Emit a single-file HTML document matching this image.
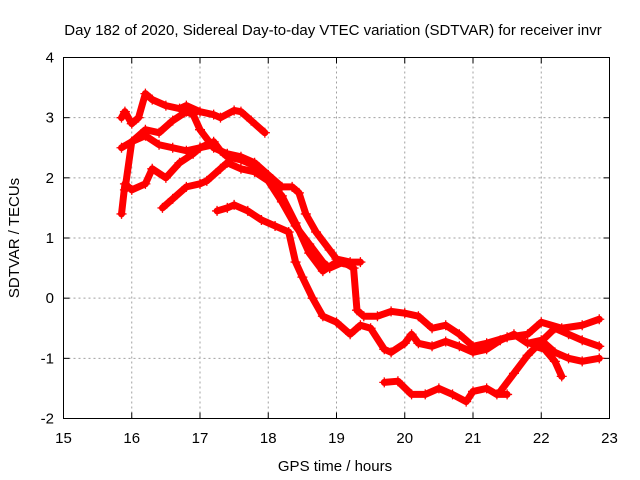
<!DOCTYPE html>
<html><head><meta charset="utf-8"><style>
body{margin:0;background:#fff}
svg{display:block;font-family:"Liberation Sans",sans-serif}
</style></head><body>
<svg id="chart" width="640" height="480">
<text x="333" y="35" font-size="15" text-anchor="middle">Day 182 of 2020, Sidereal Day-to-day VTEC variation (SDTVAR) for receiver invr</text>
<text x="335" y="471" font-size="15" text-anchor="middle">GPS time / hours</text>
<text transform="translate(19,238) rotate(-90)" font-size="15" text-anchor="middle">SDTVAR / TECUs</text>
<g id="grid"></g><g id="marks"></g>
<rect x="63.5" y="57.5" width="546" height="361" fill="none" stroke="#000"/>
</svg>
<script>
const xTicks=[15,16,17,18,19,20,21,22,23];
const yTicks=[-2,-1,0,1,2,3,4];
const seriesA=[[15.85,3.0],[15.9,3.1],[16.0,2.9],[16.1,3.0],[16.2,3.4],[16.3,3.3],[16.5,3.2],[16.7,3.15],[16.8,3.2],[17.0,3.1],[17.2,3.05],[17.3,3.0],[17.5,3.12],[17.6,3.1],[17.75,2.95],[17.95,2.75]];
const seriesB=[[15.85,2.5],[16.0,2.6],[16.2,2.8],[16.4,2.75],[16.6,2.95],[16.8,3.1],[16.9,3.05],[17.0,2.8],[17.2,2.5],[17.4,2.4],[17.6,2.35],[17.8,2.25],[18.0,2.05],[18.2,1.85],[18.35,1.85],[18.45,1.75],[18.55,1.4],[18.7,1.1],[18.9,0.8],[19.0,0.65],[19.2,0.6],[19.35,0.6]];
const seriesC=[[15.9,1.8],[16.0,2.6],[16.2,2.7],[16.4,2.55],[16.6,2.5],[16.8,2.45],[17.0,2.5],[17.2,2.55],[17.4,2.35],[17.6,2.3],[17.8,2.2],[18.0,1.95],[18.2,1.6],[18.4,1.2],[18.6,0.9],[18.8,0.6],[18.9,0.5],[19.1,0.6],[19.25,0.5],[19.3,-0.2],[19.4,-0.3],[19.6,-0.3],[19.8,-0.22],[20.0,-0.25],[20.2,-0.3],[20.4,-0.5],[20.6,-0.45],[20.8,-0.6],[21.0,-0.8],[21.2,-0.75],[21.5,-0.65],[21.8,-0.6],[22.0,-0.4],[22.3,-0.5],[22.6,-0.45],[22.85,-0.35]];
const seriesD=[[15.85,1.4],[15.9,1.9],[16.0,1.8],[16.2,1.9],[16.3,2.15],[16.5,2.0],[16.7,2.25],[16.9,2.4],[17.0,2.5],[17.2,2.6],[17.3,2.45]];
const seriesE=[[16.45,1.5],[16.6,1.65],[16.8,1.85],[17.0,1.9],[17.1,1.95],[17.3,2.15],[17.4,2.25],[17.6,2.15],[17.8,2.1],[18.0,1.95],[18.2,1.7],[18.4,1.25],[18.6,0.75],[18.8,0.45],[19.0,0.6],[19.2,0.55]];
const seriesF=[[17.25,1.45],[17.4,1.5],[17.5,1.55],[17.7,1.45],[17.9,1.3],[18.1,1.2],[18.3,1.1],[18.4,0.6],[18.5,0.35],[18.65,0.0],[18.8,-0.3],[19.0,-0.4],[19.2,-0.6],[19.35,-0.45],[19.5,-0.5],[19.7,-0.85],[19.8,-0.9],[20.0,-0.75],[20.1,-0.6],[20.2,-0.75],[20.4,-0.8],[20.6,-0.72],[20.8,-0.8],[21.0,-0.9],[21.2,-0.85],[21.4,-0.7],[21.6,-0.6],[21.8,-0.75],[22.0,-0.7],[22.2,-0.9],[22.4,-1.0],[22.6,-1.05],[22.85,-1.0]];
const seriesG=[[19.7,-1.4],[19.9,-1.38],[20.1,-1.6],[20.3,-1.6],[20.5,-1.5],[20.7,-1.6],[20.9,-1.72],[21.0,-1.55],[21.2,-1.5],[21.35,-1.6],[21.5,-1.6]];
const seriesH=[[21.4,-1.55],[21.6,-1.25],[21.8,-0.95],[22.0,-0.72],[22.2,-0.5],[22.4,-0.6],[22.6,-0.7],[22.85,-0.8]];
const seriesI=[[21.9,-0.8],[22.05,-0.85],[22.2,-1.05],[22.3,-1.3]];
const allSeries=[seriesA,seriesB,seriesC,seriesD,seriesE,seriesF,seriesG,seriesH,seriesI];
const X0=63.5,X1=609.5,Y0=418.5,Y1=57.5;
const sx=v=>X0+(v-15)/8*(X1-X0);
const sy=v=>Y0-(v+2)/6*(Y0-Y1);
const NS="http://www.w3.org/2000/svg";
const grid=document.getElementById('grid'),marks=document.getElementById('marks');
function mk(t,a,p){const e=document.createElementNS(NS,t);for(const k in a)e.setAttribute(k,a[k]);p.appendChild(e);return e;}
xTicks.forEach(v=>{const x=sx(v);
 if(v>15&&v<23){const g=mk('line',{x1:x,x2:x,y1:Y0,y2:Y1,stroke:'#a0a0a0','stroke-dasharray':'2,3'},grid);
 
 }
 mk('line',{x1:x,x2:x,y1:Y0,y2:Y0-6,stroke:'#000'},grid);mk('line',{x1:x,x2:x,y1:Y1,y2:Y1+6,stroke:'#000'},grid);
 const t=mk('text',{x:x,y:443,'font-size':15,'text-anchor':'middle'},grid);t.textContent=v;
 
 });
yTicks.forEach(v=>{const y=sy(v);
 if(v>-2&&v<4){const g=mk('line',{x1:X0,x2:X1,y1:y,y2:y,stroke:'#a0a0a0','stroke-dasharray':'2,3'},grid);
 
 }
 mk('line',{x1:X0,x2:X0+6,y1:y,y2:y,stroke:'#000'},grid);mk('line',{x1:X1,x2:X1-6,y1:y,y2:y,stroke:'#000'},grid);
 const t=mk('text',{x:54,y:y+5,'font-size':15,'text-anchor':'end'},grid);t.textContent=v;
 
 });
allSeries.forEach((s,i)=>{
 const g=mk('g',{},marks);
 
 
 mk('polyline',{points:s.map(p=>sx(p[0])+','+sy(p[1])).join(' '),fill:'none',stroke:'#f00','stroke-width':7,'stroke-linejoin':'round','stroke-linecap':'round'},g);
 s.forEach(p=>{const x=sx(p[0]),y=sy(p[1]);
  mk('path',{d:`M${x-5},${y}H${x+5}M${x},${y-5}V${y+5}`,stroke:'#f00','stroke-width':1.3},g);});
});
</script>
</body></html>
